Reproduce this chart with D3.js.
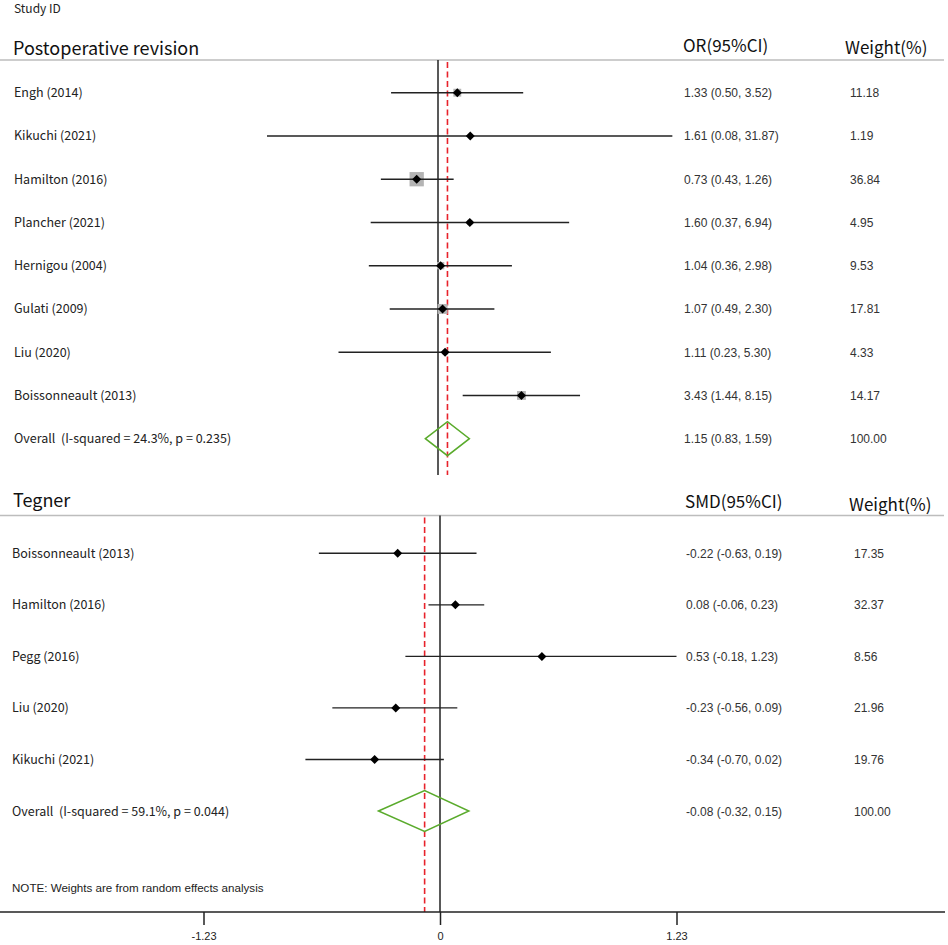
<!DOCTYPE html>
<html>
<head>
<meta charset="utf-8">
<script src="https://cdn.jsdelivr.net/npm/d3@7"></script>
<style>
  body { margin: 0; background: #fff; }
  svg { display: block; }
  text { white-space: pre; }
</style>
</head>
<body>
<svg id="chart"></svg>
<script>
// panel 1: postoperative revision (OR, log scale)
let orStudies = ["Engh (2014)", "Kikuchi (2021)", "Hamilton (2016)", "Plancher (2021)",
  "Hernigou (2004)", "Gulati (2009)", "Liu (2020)", "Boissonneault (2013)"];
let orEst = [1.33, 1.61, 0.73, 1.60, 1.04, 1.07, 1.11, 3.43];
let orLow = [0.50, 0.08, 0.43, 0.37, 0.36, 0.49, 0.23, 1.44];
let orHigh = [3.52, 31.87, 1.26, 6.94, 2.98, 2.30, 5.30, 8.15];
let orWeight = [11.18, 1.19, 36.84, 4.95, 9.53, 17.81, 4.33, 14.17];
let orOverall = [1.15, 0.83, 1.59];
let orOverallLabel = "Overall  (I-squared = 24.3%, p = 0.235)";

// panel 2: Tegner (SMD, linear scale)
let smdStudies = ["Boissonneault (2013)", "Hamilton (2016)", "Pegg (2016)", "Liu (2020)", "Kikuchi (2021)"];
let smdEst = [-0.22, 0.08, 0.53, -0.23, -0.34];
let smdLow = [-0.63, -0.06, -0.18, -0.56, -0.70];
let smdHigh = [0.19, 0.23, 1.23, 0.09, 0.02];
let smdWeight = [17.35, 32.37, 8.56, 21.96, 19.76];
let smdOverall = [-0.08, -0.32, 0.15];
let smdOverallLabel = "Overall  (I-squared = 59.1%, p = 0.044)";

let axisTicks = [-1.23, 0, 1.23];

let width = 948, height = 945;
let svg = d3.select("#chart").attr("width", width).attr("height", height);

let labelFont = "'Noto Sans CJK SC', 'Noto Sans', sans-serif";
let numFont = "'Liberation Sans', Arial, sans-serif";
// plain hyphen for negatives, like the Stata output
let fmt = d3.formatLocale({ decimal: ".", thousands: ",", grouping: [3], currency: ["", ""], minus: "-" })
  .format(".2f");

// x scales
let pxPerLn = 67.7;
let nullX = 438;
let xOR = d3.scaleLog()
  .domain([Math.exp(-nullX / pxPerLn), Math.exp((width - nullX) / pxPerLn)])
  .range([0, width]);
let xSMD = d3.scaleLinear().domain([-1.23, 1.23]).range([203.5, 676.5]);

// y scales
let yTop = d3.scaleLinear().domain([0, orStudies.length]).range([92.7, 438.7]);
let yBot = d3.scaleLinear().domain([0, smdStudies.length]).range([553.3, 811]);

svg.append("text").attr("x", 14).attr("y", 13)
  .style("font-family", labelFont).style("font-size", "12px").attr("fill", "#222")
  .text("Study ID");

drawPanel({
  title: "Postoperative revision", colHead: "OR(95%CI)",
  studies: orStudies, est: orEst, low: orLow, high: orHigh, weight: orWeight,
  overall: orOverall, overallLabel: orOverallLabel,
  x: xOR, y: yTop, nullVal: 1,
  titleY: 55, headY: 52, wHeadY: 54, sepY: 60, lineBottom: 475,
  labelX: 14, numX: 684, wX: 850, diamondHalf: 17, boxes: true,
});

drawPanel({
  title: "Tegner", colHead: "SMD(95%CI)",
  studies: smdStudies, est: smdEst, low: smdLow, high: smdHigh, weight: smdWeight,
  overall: smdOverall, overallLabel: smdOverallLabel,
  x: xSMD, y: yBot, nullVal: 0,
  titleY: 507, headY: 508, wHeadY: 511, sepY: 515.5, lineBottom: 912,
  labelX: 12, numX: 686, wX: 854, diamondHalf: 20.5, boxes: false,
});

function drawPanel(p) {
  let g = svg.append("g");
  let n = p.studies.length;

  g.append("text").attr("x", 13).attr("y", p.titleY)
    .style("font-family", labelFont).style("font-size", "18px").attr("fill", "#111")
    .text(p.title);
  g.append("text").attr("x", p.numX - 1).attr("y", p.headY)
    .style("font-family", labelFont).style("font-size", "17px").attr("fill", "#111")
    .text(p.colHead);
  g.append("text").attr("x", p.wX - 5).attr("y", p.wHeadY)
    .style("font-family", labelFont).style("font-size", "17px").attr("fill", "#111")
    .text("Weight(%)");

  g.append("line").attr("x1", 0).attr("x2", 944).attr("y1", p.sepY).attr("y2", p.sepY)
    .attr("stroke", "#bdbdbd").attr("stroke-width", 1.5);

  // null line and overall effect line
  g.append("line")
    .attr("x1", p.x(p.nullVal)).attr("x2", p.x(p.nullVal))
    .attr("y1", p.sepY).attr("y2", p.lineBottom)
    .attr("stroke", "#222").attr("stroke-width", 1.5);
  g.append("line")
    .attr("x1", p.x(p.overall[0])).attr("x2", p.x(p.overall[0]))
    .attr("y1", p.sepY + 2).attr("y2", p.lineBottom)
    .attr("stroke", "#e8222b").attr("stroke-width", 1.6).attr("stroke-dasharray", "6,3.5");

  let idx = d3.range(n);

  if (p.boxes) {
    let maxW = d3.max(p.weight);
    let side = d3.scaleSqrt().domain([0, maxW]).range([0, 14.3]);
    g.selectAll(".box").data(idx).enter().append("rect")
      .attr("x", (i) => p.x(p.est[i]) - side(p.weight[i]) / 2)
      .attr("y", (i) => p.y(i) - side(p.weight[i]) / 2)
      .attr("width", (i) => side(p.weight[i]))
      .attr("height", (i) => side(p.weight[i]))
      .attr("fill", "#b4b4b4");
  }

  g.selectAll(".ci").data(idx).enter().append("line")
    .attr("x1", (i) => p.x(p.low[i])).attr("x2", (i) => p.x(p.high[i]))
    .attr("y1", (i) => p.y(i)).attr("y2", (i) => p.y(i))
    .attr("stroke", "#222").attr("stroke-width", 1.4);

  g.selectAll(".pt").data(idx).enter().append("path")
    .attr("d", (i) => {
      let cx = p.x(p.est[i]), cy = p.y(i), r = 4.5;
      return `M${cx - r},${cy}L${cx},${cy - r}L${cx + r},${cy}L${cx},${cy + r}Z`;
    })
    .attr("fill", "#000");

  // overall diamond
  let oy = p.y(n), h = p.diamondHalf;
  g.append("path")
    .attr("d", `M${p.x(p.overall[1])},${oy}L${p.x(p.overall[0])},${oy - h}` +
      `L${p.x(p.overall[2])},${oy}L${p.x(p.overall[0])},${oy + h}Z`)
    .attr("fill", "none").attr("stroke", "#5aab2c").attr("stroke-width", 1.5);

  let rows = idx.concat([n]);
  g.selectAll(".lab").data(rows).enter().append("text")
    .attr("x", p.labelX).attr("y", (i) => p.y(i) + 4.5)
    .style("font-family", labelFont).style("font-size", "12.5px").attr("fill", "#222")
    .text((i) => (i < n ? p.studies[i] : p.overallLabel));

  g.selectAll(".num").data(rows).enter().append("text")
    .attr("x", p.numX).attr("y", (i) => p.y(i) + 4.5)
    .style("font-family", numFont).style("font-size", "12px").attr("fill", "#333")
    .text((i) => {
      let e = i < n ? p.est[i] : p.overall[0];
      let lo = i < n ? p.low[i] : p.overall[1];
      let hi = i < n ? p.high[i] : p.overall[2];
      return `${fmt(e)} (${fmt(lo)}, ${fmt(hi)})`;
    });

  g.selectAll(".wt").data(rows).enter().append("text")
    .attr("x", p.wX).attr("y", (i) => p.y(i) + 4.5)
    .style("font-family", numFont).style("font-size", "12px").attr("fill", "#333")
    .text((i) => fmt(i < n ? p.weight[i] : 100));
}

svg.append("text").attr("x", 12).attr("y", 892)
  .style("font-family", numFont).style("font-size", "11.6px").attr("fill", "#222")
  .text("NOTE: Weights are from random effects analysis");

// bottom axis
let axisY = 912;
svg.append("line").attr("x1", 0).attr("x2", 945).attr("y1", axisY).attr("y2", axisY)
  .attr("stroke", "#222").attr("stroke-width", 1.5);
let axis = d3.axisBottom(xSMD).tickValues(axisTicks).tickSize(13)
  .tickFormat((d) => (d === 0 ? "0" : fmt(d)));
let gAxis = svg.append("g").attr("transform", `translate(0,${axisY})`).call(axis);
gAxis.select(".domain").remove();
gAxis.selectAll(".tick line").attr("stroke", "#222").attr("stroke-width", 1.5);
gAxis.selectAll(".tick text").attr("y", 20)
  .style("font-family", numFont).style("font-size", "11px").attr("fill", "#222");
</script>
</body>
</html>
